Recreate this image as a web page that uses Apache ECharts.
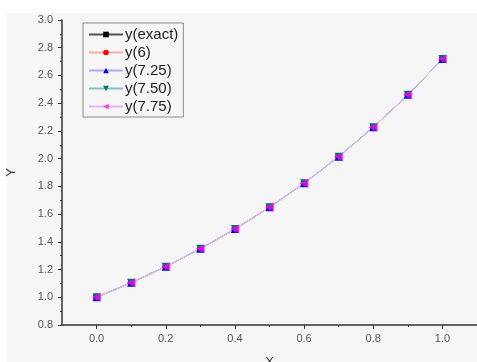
<!DOCTYPE html>
<html>
<head>
<meta charset="utf-8">
<script src="https://cdn.jsdelivr.net/npm/echarts@6/dist/echarts.min.js"></script>
<style>
  html, body { margin: 0; padding: 0; background: #fff; }
  #chart-container { width: 477px; height: 362px; }
</style>
</head>
<body>
<div id="chart-container"></div>
<script>
var dom = document.getElementById('chart-container');
var myChart = echarts.init(dom, null, { renderer: 'canvas' });

// x values and the solutions (all curves lie on top of each other)
var xValues = [0.0, 0.1, 0.2, 0.3, 0.4, 0.5, 0.6, 0.7, 0.8, 0.9, 1.0];
var yExact = [1.000, 1.105, 1.221, 1.350, 1.492, 1.649, 1.822, 2.014, 2.226, 2.460, 2.718];
var y6     = [1.000, 1.105, 1.221, 1.350, 1.492, 1.649, 1.822, 2.014, 2.226, 2.460, 2.718];
var y725   = [1.000, 1.105, 1.221, 1.350, 1.492, 1.649, 1.822, 2.014, 2.226, 2.460, 2.718];
var y750   = [1.000, 1.105, 1.221, 1.350, 1.492, 1.649, 1.822, 2.014, 2.226, 2.460, 2.718];
var y775   = [1.000, 1.105, 1.221, 1.350, 1.492, 1.649, 1.822, 2.014, 2.226, 2.460, 2.718];

var seriesNames = ['y(exact)', 'y(6)', 'y(7.25)', 'y(7.50)', 'y(7.75)'];
var seriesData = [yExact, y6, y725, y750, y775];
var markerColors = ['#000000', '#ff0000', '#0000ee', '#007070', '#ff00ff'];
var lineColors = ['#505050', '#ffaaaa', '#aaaaee', '#88c0c0', '#eeb0ee'];
var seriesSymbols = ['rect', 'circle', 'triangle',
  'path://M0,0 L10,0 L5,9 Z',   // down triangle
  'path://M9,0 L9,10 L0,5 Z'];  // left triangle
var symbolSizes = [6, 7, 8, 8, 9];

var majorX = [0, 0.2, 0.4, 0.6, 0.8, 1.0];
var minorX = [0.1, 0.3, 0.5, 0.7, 0.9];

var labelStyle = { color: '#555', fontSize: 11, fontFamily: 'Liberation Sans, Arial, sans-serif' };

option = {
  animation: false,
  backgroundColor: '#ffffff',
  graphic: [
    {
      type: 'rect',
      z: -10,
      shape: { x: 7, y: 13, width: 470, height: 349 },
      style: { fill: '#f6f6f6' }
    }
  ],
  grid: { left: 62, top: 20, right: 0, bottom: 37, containLabel: false, outerBoundsMode: 'none' },
  legend: {
    orient: 'vertical',
    left: 83,
    top: 23,
    borderColor: '#8a8a8a',
    borderWidth: 1,
    padding: [4, 5, 3, 5],
    itemGap: 3,
    itemWidth: 34,
    itemHeight: 7,
    textStyle: { fontSize: 15, color: '#222', fontFamily: 'Liberation Sans, Arial, sans-serif', padding: [0, 0, 0, -3] },
    data: seriesNames
  },
  xAxis: [
    {
      type: 'value',
      min: -0.1,
      max: 1.1,
      name: 'X',
      nameLocation: 'middle',
      nameGap: 31,
      nameTextStyle: { fontSize: 13, color: '#333' },
      splitLine: { show: false },
      axisLine: { onZero: false, lineStyle: { color: '#333', width: 1.5 } },
      axisTick: { show: true, customValues: majorX, length: 4, lineStyle: { color: '#333' } },
      axisLabel: Object.assign({ customValues: majorX, margin: 8,
        formatter: function (v) { return v.toFixed(1); } }, labelStyle)
    },
    {
      type: 'value',
      min: -0.1,
      max: 1.1,
      position: 'bottom',
      splitLine: { show: false },
      axisLine: { show: false, onZero: false },
      axisTick: { show: true, customValues: minorX, length: 2, lineStyle: { color: '#333' } },
      axisLabel: { show: false }
    }
  ],
  yAxis: {
    type: 'value',
    min: 0.8,
    max: 3.0,
    interval: 0.2,
    name: 'Y',
    nameLocation: 'middle',
    nameGap: 44,
    nameTextStyle: { fontSize: 13, color: '#333' },
    splitLine: { show: false },
    axisLine: { show: true, onZero: false, lineStyle: { color: '#333', width: 1.5 } },
    axisTick: { show: true, length: 4, lineStyle: { color: '#333' } },
    minorTick: { show: true, splitNumber: 2, length: 2, lineStyle: { color: '#333' } },
    axisLabel: Object.assign({ margin: 9,
      formatter: function (v) { return v.toFixed(1); } }, labelStyle)
  },
  series: seriesNames.map(function (name, i) {
    return {
      name: name,
      type: 'line',
      xAxisIndex: 0,
      symbol: seriesSymbols[i],
      symbolSize: symbolSizes[i],
      showAllSymbol: true,
      itemStyle: { color: markerColors[i], opacity: i === 4 ? 0.7 : 1 },
      lineStyle: { color: lineColors[i], width: 1 },
      data: xValues.map(function (x, j) { return [x, seriesData[i][j]]; })
    };
  })
};

myChart.setOption(option);
window.addEventListener('resize', myChart.resize);
</script>
</body>
</html>
